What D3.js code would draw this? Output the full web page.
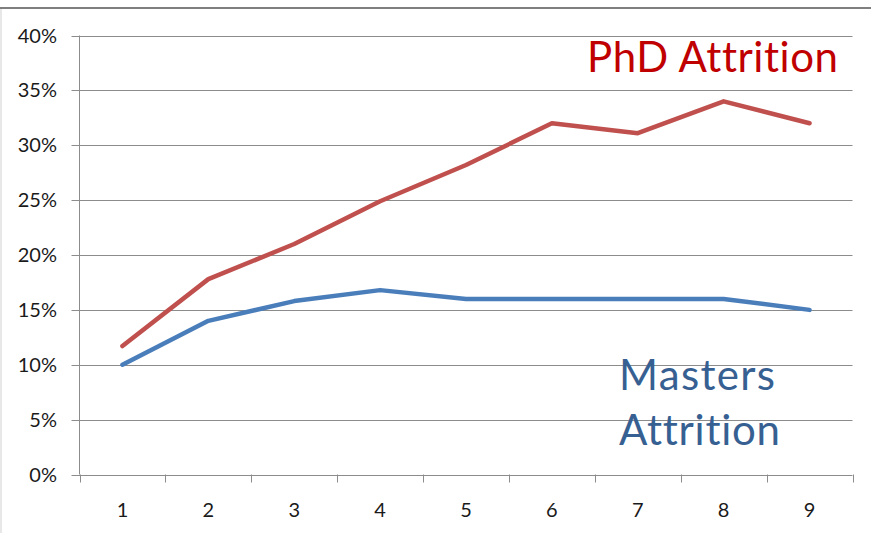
<!DOCTYPE html>
<html><head><meta charset="utf-8">
<script src="https://cdn.jsdelivr.net/npm/d3@7"></script>
<style>body{margin:0;background:#fff;}svg{display:block;}text{font-variant-ligatures:none;}</style>
</head><body>
<script>
const categories = ["1","2","3","4","5","6","7","8","9"];
const phdValues = [0.117, 0.178, 0.210, 0.249, 0.282, 0.320, 0.311, 0.340, 0.320];
const mastersValues = [0.100, 0.140, 0.158, 0.168, 0.160, 0.160, 0.160, 0.160, 0.150];
const yTicks = [0, 0.05, 0.10, 0.15, 0.20, 0.25, 0.30, 0.35, 0.40];

(function(){
const W = 871, H = 533;
const svg = d3.select("body").append("svg").attr("width", W).attr("height", H);

// outer frame
svg.append("line").attr("x1",0).attr("x2",W).attr("y1",8).attr("y2",8)
  .attr("stroke","#7f7f7f").attr("stroke-width",2);
svg.append("line").attr("x1",1).attr("x2",1).attr("y1",9).attr("y2",H)
  .attr("stroke","#d0d0d0").attr("stroke-width",1);

const pLeft = 79.5, pRight = 852.5, pTop = 35.5, pBottom = 474.5;
const x = d3.scaleBand().domain(categories).range([pLeft, pRight]);
const y = d3.scaleLinear().domain([0, 0.40]).range([pBottom, pTop]);

const font = "Lato, 'Open Sans', sans-serif";

// gridlines
svg.append("g").selectAll("line").data(yTicks).join("line")
  .attr("x1", pLeft - 8).attr("x2", pRight)
  .attr("y1", d => Math.round(y(d)) + 0.5).attr("y2", d => Math.round(y(d)) + 0.5)
  .attr("stroke", "#8c8c8c").attr("stroke-width", 1);

// y axis line
svg.append("line").attr("x1", pLeft).attr("x2", pLeft).attr("y1", pTop).attr("y2", pBottom)
  .attr("stroke", "#8c8c8c");

// y labels
svg.append("g").selectAll("text").data(yTicks).join("text")
  .attr("x", 57).attr("y", d => y(d) + 7)
  .attr("text-anchor", "end")
  .attr("font-family", font).attr("font-size", 20).attr("fill", "#1a1a1a")
  .text(d => d3.format(".0%")(d));

// x tick marks at band boundaries
const bounds = categories.map(c => x(c)).concat([x(categories[categories.length-1]) + x.bandwidth()]);
svg.append("g").selectAll("line").data(bounds).join("line")
  .attr("x1", d => Math.round(d) + 0.5).attr("x2", d => Math.round(d) + 0.5)
  .attr("y1", pBottom).attr("y2", pBottom + 8)
  .attr("stroke", "#8c8c8c");

// x labels
svg.append("g").selectAll("text").data(categories).join("text")
  .attr("x", d => x(d) + x.bandwidth()/2).attr("y", 517)
  .attr("text-anchor", "middle")
  .attr("font-family", font).attr("font-size", 20).attr("fill", "#1a1a1a")
  .text(d => d);

const line = d3.line().x((d, i) => x(categories[i]) + x.bandwidth()/2).y(d => y(d));

svg.append("path").datum(mastersValues).attr("d", line)
  .attr("fill", "none").attr("stroke", "#4a7ebb").attr("stroke-width", 4.5)
  .attr("stroke-linejoin", "round").attr("stroke-linecap", "round");
svg.append("path").datum(phdValues).attr("d", line)
  .attr("fill", "none").attr("stroke", "#c0504d").attr("stroke-width", 4.5)
  .attr("stroke-linejoin", "round").attr("stroke-linecap", "round");

// annotations
svg.append("text").attr("x", 587).attr("y", 72)
  .attr("font-family", font).attr("font-size", 42).attr("fill", "#c00000")
  .attr("textLength", 251).attr("lengthAdjust", "spacing")
  .text("PhD Attrition");
svg.append("text").attr("x", 619).attr("y", 390)
  .attr("font-family", font).attr("font-size", 42).attr("fill", "#376092")
  .attr("textLength", 156).attr("lengthAdjust", "spacing")
  .text("Masters");
svg.append("text").attr("x", 619).attr("y", 445)
  .attr("font-family", font).attr("font-size", 42).attr("fill", "#376092")
  .attr("textLength", 161).attr("lengthAdjust", "spacing")
  .text("Attrition");
})();
</script>
</body></html>
